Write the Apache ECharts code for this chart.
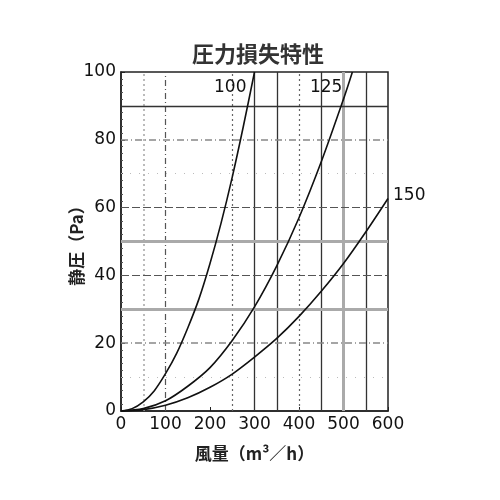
<!DOCTYPE html>
<html>
<head>
<meta charset="utf-8">
<script src="https://cdn.jsdelivr.net/npm/echarts@6/dist/echarts.min.js"></script>
<style>html,body{margin:0;padding:0;background:#fff}#c{width:500px;height:500px}</style>
</head>
<body>
<div id="c"></div>
<script>
// ---- data ----
const titleText = '圧力損失特性';
const xName = '風量（m³／h）';
const yName = '静圧（Pa）';
const seriesNames = ['100', '125', '150'];
const flow100 = [0, 25, 50, 75, 100, 125, 150, 175, 200, 225, 250, 275, 300];
const pres100 = [0, 0.7, 2.7, 6, 11, 17, 24.5, 33, 43.5, 55.5, 69, 84, 100];
const flow125 = [0, 50, 100, 150, 200, 250, 300, 350, 400, 450, 500, 520];
const pres125 = [0, 0.7, 3.0, 7.3, 12.8, 20.8, 30.7, 42.8, 57, 73.5, 92, 100];
const flow150 = [0, 50, 100, 150, 200, 250, 300, 350, 400, 450, 500, 550, 600];
const pres150 = [0, 0.4, 1.7, 3.9, 7, 10.9, 15.9, 21.4, 27.9, 35.3, 43.5, 52.8, 62.7];
// reference grid lines (axis values)
const vSolid = [300, 350, 450, 550];
const vGray = [500];
const vDashDot = [100];
const vDotted = [250, 400];
const vLightDotted = [50];
const hSolid = [90];
const hGray = [30, 50];
const hDashed = [40, 60];
const hDashDot = [20, 80];
const hDotted = [10, 70];

const FONT = "'DejaVu Sans', 'Liberation Sans', Arial, sans-serif";
const CJK = "'Noto Sans CJK JP', sans-serif";

function pairs(xs, ys) { return xs.map((x, i) => [x, ys[i]]); }
function withLabel(data, text, pos, dist, off) {
  const d = data.slice();
  const last = d.length - 1;
  d[last] = { value: d[last], label: { show: true, formatter: text, position: pos, distance: dist, offset: off,
    color: '#111', fontSize: 17, fontFamily: FONT } };
  return d;
}
function gridSeries(vals, axis, style) {
  return {
    type: 'line', data: [], silent: true, z: 1,
    markLine: {
      silent: true, symbol: 'none', label: { show: false }, animation: false,
      lineStyle: style,
      data: vals.map(v => axis === 'x' ? { xAxis: v } : { yAxis: v })
    }
  };
}
const curveStyle = { color: '#111', width: 1.6 };
function curve(name, data) {
  return {
    name: name, type: 'line', data: data, smooth: 0.3, showSymbol: true, symbol: 'circle', symbolSize: 0,
    lineStyle: curveStyle, itemStyle: { color: '#111' }, z: 5, clip: true, label: { show: false }
  };
}

const chart = echarts.init(document.getElementById('c'));
chart.setOption({
  animation: false,
  backgroundColor: '#fff',
  title: {
    text: titleText, left: 253, top: 38, textAlign: 'center',
    textStyle: { fontFamily: CJK, fontSize: 22, fontWeight: 'bold', color: '#333' }
  },
  grid: { left: 121, right: 112, top: 72, bottom: 89, show: true, borderColor: '#222', borderWidth: 1.5 },
  xAxis: {
    type: 'value', min: 0, max: 600, interval: 100,
    name: xName, nameLocation: 'middle', nameGap: 34, nameMoveOverlap: false,
    nameTextStyle: { fontFamily: CJK, fontSize: 17, fontWeight: 'bold', color: '#222' },
    axisLine: { show: true, lineStyle: { color: '#222', width: 1.5 } },
    axisTick: { show: true, inside: true, length: 4, lineStyle: { color: '#222' } },
    minorTick: { show: false },
    axisLabel: { margin: 5, fontSize: 17, color: '#111', fontFamily: FONT },
    splitLine: { show: false }
  },
  yAxis: {
    type: 'value', min: 0, max: 100, interval: 20,
    name: yName, nameLocation: 'middle', nameGap: 36, nameRotate: 90, nameMoveOverlap: false,
    nameTextStyle: { fontFamily: CJK, fontSize: 17, fontWeight: 'bold', color: '#222' },
    axisLine: { show: true, lineStyle: { color: '#222', width: 1.5 } },
    axisTick: { show: true, inside: true, length: 4, lineStyle: { color: '#222' } },
    minorTick: { show: true, splitNumber: 10, length: 2, lineStyle: { color: '#555' } },
    axisLabel: { margin: 5, fontSize: 17, color: '#111', fontFamily: FONT },
    splitLine: { show: false }
  },
  series: [
    gridSeries(vSolid, 'x', { color: '#333', width: 1.3, type: 'solid' }),
    gridSeries(vGray, 'x', { color: '#aaa', width: 3, type: 'solid' }),
    gridSeries(vDashDot, 'x', { color: '#555', width: 1.2, type: [6, 3, 1, 3] }),
    gridSeries(vDotted, 'x', { color: '#666', width: 1.2, type: [2, 3] }),
    gridSeries(vLightDotted, 'x', { color: '#bbb', width: 2, type: [2, 3] }),
    gridSeries(hSolid, 'y', { color: '#333', width: 1.3, type: 'solid' }),
    gridSeries(hGray, 'y', { color: '#aaa', width: 3, type: 'solid' }),
    gridSeries(hDashed, 'y', { color: '#555', width: 1.2, type: [8, 3] }),
    gridSeries(hDashDot, 'y', { color: '#888', width: 1.5, type: [7, 3, 1, 3] }),
    gridSeries(hDotted, 'y', { color: '#bbb', width: 1, type: [1, 8] }),
    curve(seriesNames[0], withLabel(pairs(flow100, pres100), seriesNames[0], 'left', 6, [-2, 16])),
    curve(seriesNames[1], withLabel(pairs(flow125, pres125), seriesNames[1], 'left', 8, [-2, 16])),
    curve(seriesNames[2], withLabel(pairs(flow150, pres150), seriesNames[2], 'right', 5, [0, -3]))
  ]
});
</script>
</body>
</html>
